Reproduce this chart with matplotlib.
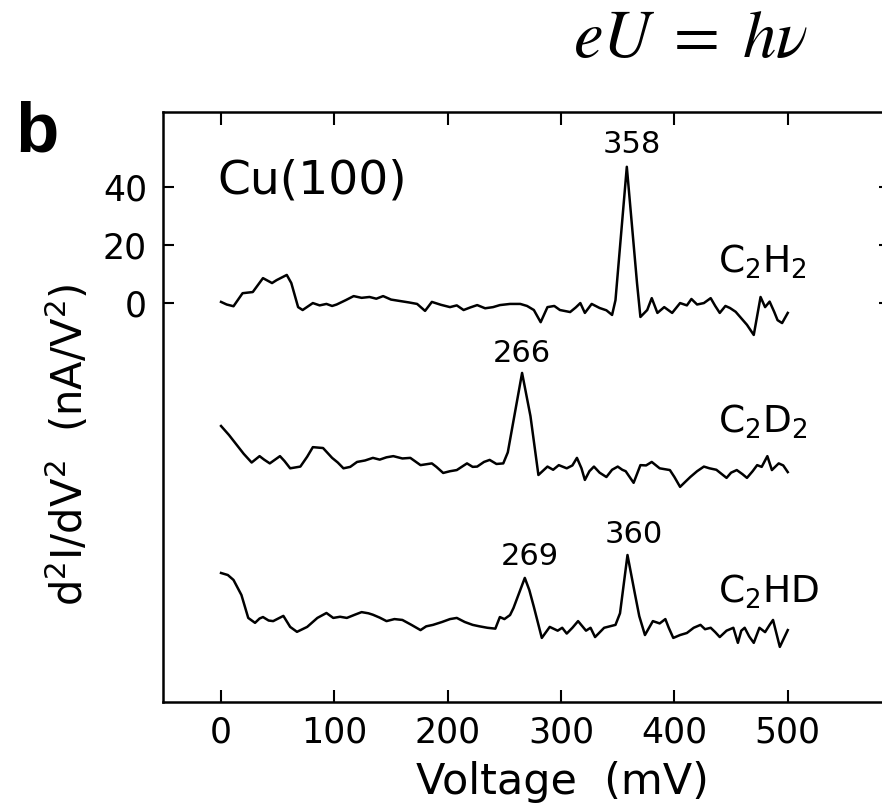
import matplotlib
matplotlib.use('Agg')
import matplotlib.pyplot as plt

# (mV, nA/V^2 with the stacking offsets included)
v_h2 = [0, 5, 11, 19, 28, 37, 45, 49, 58, 62, 68, 72, 81, 87, 93, 98, 102, 110, 117, 124,
        131, 137, 143, 150, 158, 166, 173, 180, 186, 194, 202, 208, 214, 220, 226, 233, 240,
        246, 255, 264, 270, 276, 282, 288, 294, 299, 308, 313, 317, 321, 327, 334, 340, 345,
        348, 358, 367, 370, 376, 380, 385, 391, 398, 405, 411, 415, 420, 426, 432, 436, 440,
        445, 449, 454, 458, 464, 470, 476, 480, 484, 488, 491, 495, 500]
y_h2 = [0.4, -0.5, -1.1, 3.4, 3.8, 8.6, 6.9, 7.9, 9.7, 6.9, -1.4, -2.4, 0.0, -0.8, -0.3, -1.0,
        -0.5, 1.0, 2.4, 1.8, 2.1, 1.5, 2.4, 1.2, 0.7, 0.2, -0.3, -2.7, 0.4, -0.6, -1.4, -0.8,
        -2.4, -1.5, -0.7, -1.8, -1.4, -0.7, -0.3, -0.3, -1.0, -2.4, -6.6, -1.4, -1.0, -2.4,
        -3.1, -1.5, 0.0, -3.4, -0.3, -1.7, -2.5, -4.1, 1.0, 47.0, 6.9, -4.8, -2.4, 1.7, -3.4,
        -1.4, -3.4, 0.0, -0.8, 1.4, -0.5, 0.0, 1.7, -1.0, -3.4, -1.0, -1.7, -3.0, -4.8, -7.5,
        -11.0, 2.1, -1.4, 0.5, -3.0, -5.9, -6.9, -3.4]

v_d2 = [0, 7, 14, 20, 27, 34, 38, 43, 52, 56, 61, 70, 76, 81, 90, 98, 103, 108, 114, 120,
        127, 134, 140, 146, 152, 160, 167, 176, 186, 190, 196, 202, 208, 217, 222, 226, 232,
        237, 243, 249, 253, 265.6, 273, 280, 288, 293, 298, 305, 310, 314, 318, 321, 325, 329,
        334, 340, 345, 350, 354, 357, 364, 370, 375, 380, 387, 396, 400, 405, 410, 414, 420,
        426, 431, 437, 446, 450, 455, 460, 464, 469, 473, 477, 482, 486, 492, 496, 500]
y_d2 = [-42.4, -45.5, -49.0, -52.0, -55.0, -52.8, -54.0, -55.3, -52.8, -54.5, -57.0, -56.4,
        -53.0, -49.7, -50.0, -53.4, -55.0, -57.0, -56.5, -54.8, -54.3, -53.4, -54.0, -53.2,
        -52.8, -53.6, -53.4, -55.9, -55.3, -56.5, -58.6, -58.0, -57.6, -55.3, -56.5, -56.4,
        -54.8, -54.1, -55.5, -55.3, -51.5, -24.1, -39.0, -59.3, -56.4, -57.5, -55.9, -57.0,
        -56.0, -53.4, -57.0, -61.0, -58.0, -56.4, -58.5, -60.0, -57.5, -56.4, -57.5, -58.0,
        -62.0, -55.9, -56.0, -54.8, -57.0, -57.6, -60.0, -63.4, -61.5, -60.0, -58.0, -56.4,
        -57.0, -57.5, -60.3, -58.5, -57.6, -59.0, -60.3, -58.0, -55.9, -56.5, -52.8, -57.6,
        -55.3, -56.0, -58.3]

v_hd = [0, 6, 11, 18, 24, 30, 34, 37, 42, 46, 52, 55, 61, 67, 76, 85, 93, 99, 105, 111, 118,
        124, 130, 134, 140, 146, 153, 160, 168, 176, 181, 187, 195, 202, 208, 215, 222, 228,
        235, 242, 246, 250, 255, 258, 263, 268, 272, 276, 283, 290, 297, 301, 305, 310, 315,
        322, 326, 330, 338, 343, 348, 352, 358.6, 365, 369, 374, 381, 387, 392, 395, 399, 405,
        411, 417, 423, 427, 432, 436, 440, 446, 452, 456, 459, 462, 466, 470, 475, 480, 484,
        487, 493, 500]
y_hd = [-93.1, -93.8, -95.5, -100.7, -108.6, -110.3, -108.8, -108.3, -109.5, -109.7, -108.5,
        -107.9, -111.7, -113.4, -111.7, -108.6, -106.9, -108.6, -108.2, -108.6, -107.5, -106.6,
        -107.0, -107.5, -108.5, -109.7, -109.0, -109.3, -111.0, -112.8, -111.5, -111.0, -110.0,
        -109.0, -108.6, -110.0, -111.0, -111.5, -112.0, -112.3, -108.3, -109.0, -107.6, -105.2,
        -100.0, -94.8, -99.0, -104.8, -115.5, -111.7, -113.0, -112.0, -114.0, -112.0, -109.7,
        -113.0, -112.0, -115.2, -112.0, -111.5, -111.0, -107.0, -86.9, -100.0, -108.0, -114.5,
        -109.7, -110.5, -109.0, -112.0, -115.5, -114.5, -113.8, -112.0, -111.0, -112.5, -112.0,
        -113.5, -115.2, -113.0, -112.0, -117.2, -113.0, -112.0, -115.0, -117.2, -112.0, -113.5,
        -111.0, -109.3, -118.6, -112.8]

peak_labels = ['358', '266', '269', '360']
peak_pos = [(362.5, 51.7), (265.7, -20.3), (272.5, -90.3), (364.5, -82.8)]
mol_labels = [r'C$_2$H$_2$', r'C$_2$D$_2$', r'C$_2$HD']
mol_y = [10.3, -44.8, -103.4]
xticks = [0, 100, 200, 300, 400, 500]
yticks = [0, 20, 40]

fig = plt.figure(figsize=(8.82, 8.1), dpi=100)
ax = fig.add_axes([163 / 882, 1 - 702 / 810, (890 - 163) / 882, (702 - 112) / 810])

for vx, vy in [(v_h2, y_h2), (v_d2, y_d2), (v_hd, y_hd)]:
    ax.plot(vx, vy, color='black', lw=1.8)

ax.set_xlim(-51.2, 590.2)
ax.set_ylim(-137.6, 65.9)
ax.set_xticks(xticks)
ax.set_yticks(yticks)
ax.tick_params(direction='in', top=True, right=True, labelsize=25, width=1.5)
ax.tick_params(axis='x', length=9, pad=10)
ax.tick_params(axis='y', length=8, pad=11.5)
for sp in ax.spines.values():
    sp.set_linewidth(1.8)

ax.set_xlabel('Voltage  (mV)', fontsize=31)
ax.xaxis.set_label_coords(0.55, -0.10)
ax.set_ylabel(r'd$^2$I/dV$^2$  (nA/V$^2$)', fontsize=30)
ax.yaxis.set_label_coords(-0.097, 0.436)

for lab, (px, py) in zip(peak_labels, peak_pos):
    ax.text(px, py, lab, ha='center', va='baseline', fontsize=22)
for lab, my in zip(mol_labels, mol_y):
    ax.text(438.6, my, lab, ha='left', va='baseline', fontsize=27)
ax.text(-3.5, 37.9, 'Cu(100)', ha='left', va='baseline', fontsize=34)

fig.text(15 / 882, 1 - 152 / 810, 'b', fontsize=51, fontweight='bold',
         family='Liberation Sans', ha='left', va='baseline')
fig.text(573 / 882, 1 - 57 / 810, r'$eU\;=\;h\nu$', fontsize=48,
         math_fontfamily='stix', ha='left', va='baseline')

fig.savefig('out.png', dpi=100)
